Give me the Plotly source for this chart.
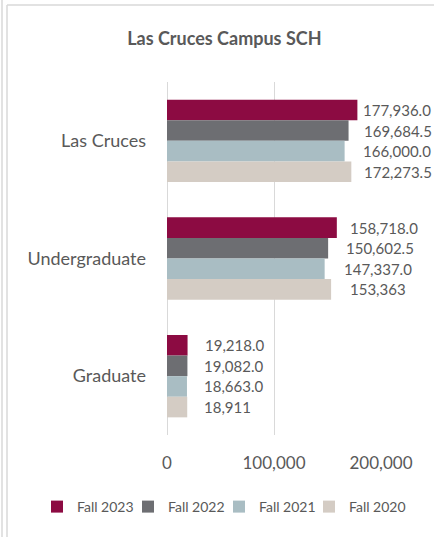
import plotly.graph_objects as go

categories = ["Las Cruces", "Undergraduate", "Graduate"]
series_names = ["Fall 2023", "Fall 2022", "Fall 2021", "Fall 2020"]
fall_2023 = [177936.0, 158718.0, 19218.0]
fall_2022 = [169684.5, 150602.5, 19082.0]
fall_2021 = [166000.0, 147337.0, 18663.0]
fall_2020 = [172273.5, 153363.0, 18911.0]
label_fall_2023 = ["177,936.0", "158,718.0", "19,218.0"]
label_fall_2022 = ["169,684.5", "150,602.5", "19,082.0"]
label_fall_2021 = ["166,000.0", "147,337.0", "18,663.0"]
label_fall_2020 = ["172,273.5", "153,363", "18,911"]
x_tick_values = [0, 100000, 200000]
x_tick_labels = ["0", "100,000", "200,000"]

series_values = [fall_2023, fall_2022, fall_2021, fall_2020]
series_labels = [label_fall_2023, label_fall_2022, label_fall_2021, label_fall_2020]
colors = ["#8C0B42", "#6D6E72", "#A9BDC3", "#D4CCC4"]
# per-label horizontal offset (px) from bar end, style only
label_shift = [[4, 11, 15], [13, 16, 15], [16, 17, 15], [11, 17, 15]]
# legend entry left edges (px), style only
legend_px = [37, 128, 219, 309]

W, H = 434, 537
L, R, T, B = 167, 53, 82, 102
FONT = "Lato"
TXT = "#595959"
bargap = 0.30

pw = W - L - R
ph = H - T - B
def px_x(p):
    return (p - L) / pw
def px_y(p):
    return (H - B - p) / ph

fig = go.Figure()
legend_ids = ["legend", "legend2", "legend3", "legend4"]
for name, vals, col, lid in zip(series_names, series_values, colors, legend_ids):
    fig.add_trace(go.Bar(
        name=name, y=categories, x=vals, orientation="h",
        marker=dict(color=col, line=dict(width=0)),
        hoverinfo="skip", legend=lid,
    ))

bar_w = (1 - bargap) / len(series_names)
annotations = []
for i, (vals, labs) in enumerate(zip(series_values, series_labels)):
    for j, (v, lab) in enumerate(zip(vals, labs)):
        annotations.append(dict(
            x=v, y=j + (i - (len(series_names) - 1) / 2) * bar_w,
            xref="x", yref="y", text=lab, showarrow=False,
            xanchor="left", yanchor="middle", xshift=label_shift[i][j],
            font=dict(family=FONT, size=15, color=TXT),
        ))

border = dict(color="#D9D9D9", width=1.5)
shapes = [
    dict(type="line", xref="paper", yref="paper", x0=px_x(2), x1=px_x(2), y0=px_y(0), y1=px_y(H), line=border),
    dict(type="line", xref="paper", yref="paper", x0=px_x(7), x1=px_x(7), y0=px_y(5), y1=px_y(H), line=border),
    dict(type="line", xref="paper", yref="paper", x0=px_x(7), x1=px_x(W), y0=px_y(5), y1=px_y(5), line=border),
]

legend_layout = {}
for lid, lx in zip(legend_ids, legend_px):
    legend_layout[lid] = dict(
        orientation="h", x=px_x(lx), xanchor="left", y=px_y(507), yanchor="middle",
        font=dict(family=FONT, size=14, color=TXT), itemwidth=30,
        bgcolor="rgba(0,0,0,0)", borderwidth=0,
    )

fig.update_layout(
    width=W, height=H,
    margin=dict(l=L, r=R, t=T, b=B),
    paper_bgcolor="white", plot_bgcolor="white",
    barmode="group", bargap=bargap, bargroupgap=0,
    title=dict(text="<b>Las Cruces Campus SCH</b>", x=0.517, xanchor="center",
               y=1 - 39 / H, yanchor="middle",
               font=dict(family=FONT, size=18, color=TXT)),
    xaxis=dict(range=[0, 200000], tickvals=x_tick_values, ticktext=x_tick_labels,
               showgrid=True, gridcolor="#D9D9D9", gridwidth=1,
               zeroline=True, zerolinecolor="#D9D9D9", zerolinewidth=1,
               showline=False, ticks="", ticklabelstandoff=16,
               tickfont=dict(family=FONT, size=17, color=TXT), fixedrange=True),
    yaxis=dict(autorange="reversed", showgrid=False, zeroline=False, showline=False,
               ticks="", ticklabelstandoff=20,
               tickfont=dict(family=FONT, size=18, color=TXT)),
    annotations=annotations,
    shapes=shapes,
    showlegend=True,
    **legend_layout,
)

fig.write_html("out.html", config={"displayModeBar": False},
               post_script="document.body.style.margin='0';")
